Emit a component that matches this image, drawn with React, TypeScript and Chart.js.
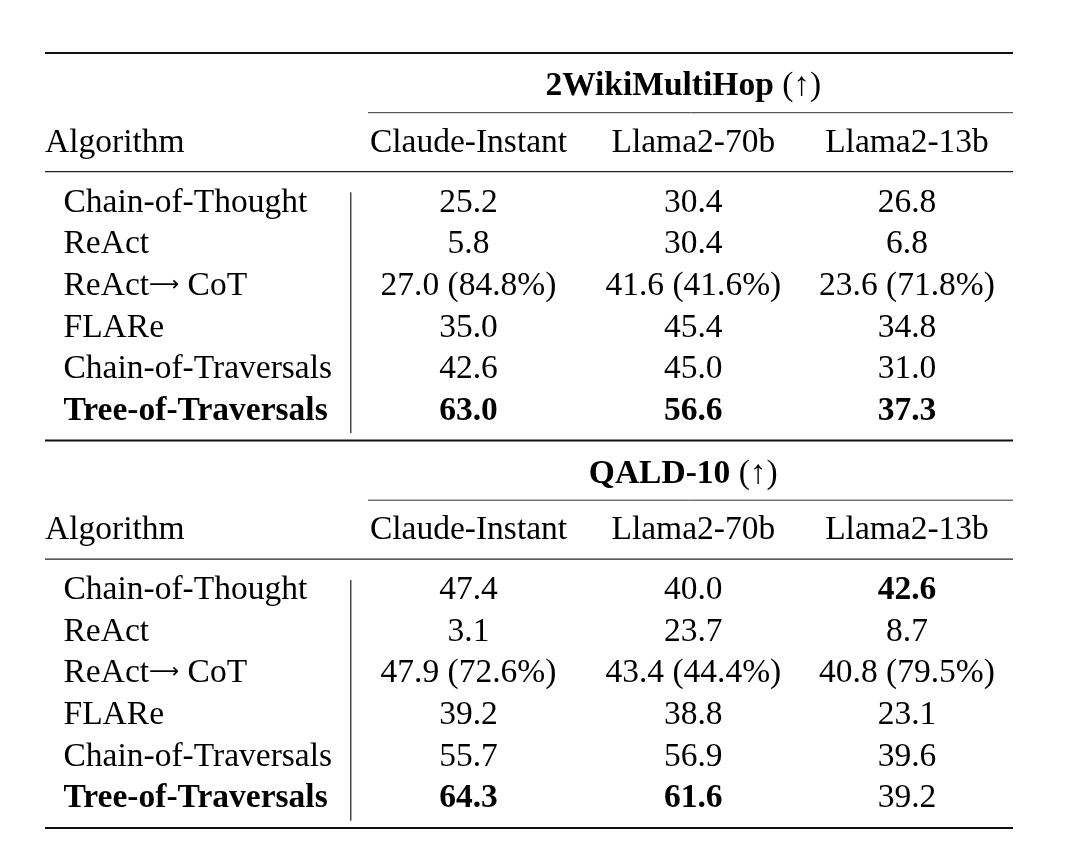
import React, { useEffect, useRef } from "react";
import { Chart, registerables } from "chart.js";
Chart.register(...registerables);

// ---------- data ----------
const benchmarks = ["2WikiMultiHop", "QALD-10"];
const models = ["Claude-Instant", "Llama2-70b", "Llama2-13b"];
const algorithms = [
  "Chain-of-Thought",
  "ReAct",
  "ReAct\u2192 CoT",
  "FLARe",
  "Chain-of-Traversals",
  "Tree-of-Traversals",
];
const wikiClaude = [25.2, 5.8, 27.0, 35.0, 42.6, 63.0];
const wikiLlama70 = [30.4, 30.4, 41.6, 45.4, 45.0, 56.6];
const wikiLlama13 = [26.8, 6.8, 23.6, 34.8, 31.0, 37.3];
const wikiFallbackPct = [84.8, 41.6, 71.8];
const wikiBoldRow = [5, 5, 5];

const qaldClaude = [47.4, 3.1, 47.9, 39.2, 55.7, 64.3];
const qaldLlama70 = [40.0, 23.7, 43.4, 38.8, 56.9, 61.6];
const qaldLlama13 = [42.6, 8.7, 40.8, 23.1, 39.6, 39.2];
const qaldFallbackPct = [72.6, 44.4, 79.5];
const qaldBoldRow = [5, 5, 0];

const boldAlgorithm = 5;
const fallbackRow = 2;

// ---------- layout (table units) ----------
const TABLE_W = 968;
const TABLE_H = 775;
const BLOCK_H = 387.5;
const ALG_X = 0;
const LABEL_X = 18.5;
const COL_X = [423.5, 648.3, 862];
const TITLE_X = 638.3;
const CMID_X0 = 323;
const VLINE_X = 305.7;
const TITLE_Y = 42;
const CMID_Y = 59.7;
const HEADER_Y = 98.7;
const MID_Y = 118.7;
const ROW0_Y = 158.7;
const ROW_H = 41.6;
const VLINE_Y0 = 139.5;
const VLINE_Y1 = 380;

const FONT_FAMILY = '"Liberation Serif", "Times New Roman", serif';
const ARROW_FONT = '21px "DejaVu Sans", sans-serif';
const FONT_SIZE = 33.5;

function fmt(v: number) {
  return v.toFixed(1);
}

function buildCells() {
  const cells: any[] = [];
  const blocks = [
    { cols: [wikiClaude, wikiLlama70, wikiLlama13], pct: wikiFallbackPct, bold: wikiBoldRow },
    { cols: [qaldClaude, qaldLlama70, qaldLlama13], pct: qaldFallbackPct, bold: qaldBoldRow },
  ];
  blocks.forEach((blk, bi) => {
    const off = bi * BLOCK_H;
    cells.push({
      x: TITLE_X,
      y: off + TITLE_Y,
      parts: [
        { t: benchmarks[bi], b: true },
        { t: " (\u2191)", b: false },
      ],
      a: "center",
    });
    cells.push({ x: ALG_X, y: off + HEADER_Y, parts: [{ t: "Algorithm", b: false }], a: "left" });
    models.forEach((m, ci) => {
      cells.push({ x: COL_X[ci], y: off + HEADER_Y, parts: [{ t: m, b: false }], a: "center" });
    });
    algorithms.forEach((alg, ri) => {
      const y = off + ROW0_Y + ri * ROW_H;
      cells.push({ x: LABEL_X, y, parts: [{ t: alg, b: ri === boldAlgorithm }], a: "left" });
      blk.cols.forEach((col, ci) => {
        let t = fmt(col[ri]);
        if (ri === fallbackRow) t += " (" + fmt(blk.pct[ci]) + "%)";
        cells.push({ x: COL_X[ci], y, parts: [{ t, b: blk.bold[ci] === ri }], a: "center" });
      });
    });
  });
  return cells;
}

function rule(x0: number, x1: number, y0: number, y1: number, w: number, color: string) {
  return {
    type: "line" as const,
    data: [
      { x: x0, y: y0 },
      { x: x1, y: y1 },
    ],
    showLine: true,
    borderColor: color,
    borderWidth: w,
    pointRadius: 0,
    clip: false,
    fill: false,
  };
}

function buildRules() {
  const r: any[] = [];
  r.push(rule(0, TABLE_W, 0, 0, 2.2, "#111"));
  for (let b = 0; b < 2; b++) {
    const off = b * BLOCK_H;
    r.push(rule(CMID_X0, TABLE_W, off + CMID_Y, off + CMID_Y, 1, "#333"));
    r.push(rule(0, TABLE_W, off + MID_Y, off + MID_Y, 1.3, "#222"));
    r.push(rule(VLINE_X, VLINE_X, off + VLINE_Y0, off + VLINE_Y1, 1, "#444"));
    r.push(rule(0, TABLE_W, off + BLOCK_H, off + BLOCK_H, 2.2, "#111"));
  }
  return r;
}

// split text so that the arrow is drawn as a long thin arrow glyph
function segments(parts: { t: string; b: boolean }[]) {
  const segs: { t: string; font: string; dy: number }[] = [];
  parts.forEach((p) => {
    const pieces = p.t.split(/(\u2192)/);
    pieces.forEach((s) => {
      if (!s) return;
      if (s === "\u2192") {
        segs.push({ t: "\u27F6", font: ARROW_FONT, dy: -4 });
      } else {
        segs.push({ t: s, font: `${p.b ? "bold " : ""}${FONT_SIZE}px ${FONT_FAMILY}`, dy: 0 });
      }
    });
  });
  return segs;
}

const textPlugin = {
  id: "cellText",
  afterDatasetsDraw(chart: any) {
    const ctx = chart.ctx as CanvasRenderingContext2D;
    chart.data.datasets.forEach((ds: any, di: number) => {
      if (!ds.isCells) return;
      const meta = chart.getDatasetMeta(di);
      meta.data.forEach((el: any, i: number) => {
        const raw = ds.data[i];
        const segs = segments(raw.parts);
        ctx.save();
        ctx.fillStyle = "#000";
        ctx.textBaseline = "alphabetic";
        ctx.textAlign = "left";
        const widths = segs.map((s) => {
          ctx.font = s.font;
          return ctx.measureText(s.t).width;
        });
        const total = widths.reduce((s, w) => s + w, 0);
        let cx = el.x;
        if (raw.a === "center") cx -= total / 2;
        else if (raw.a === "right") cx -= total;
        segs.forEach((s, k) => {
          ctx.font = s.font;
          ctx.fillText(s.t, cx, el.y + s.dy);
          cx += widths[k];
        });
        ctx.restore();
      });
    });
  },
};

export default function App() {
  const ref = useRef<HTMLCanvasElement | null>(null);
  useEffect(() => {
    if (!ref.current) return;
    const chart = new Chart(ref.current, {
      type: "scatter",
      data: {
        datasets: [
          ...buildRules(),
          {
            type: "scatter",
            isCells: true,
            data: buildCells(),
            pointRadius: 0,
            pointHoverRadius: 0,
            clip: false,
          } as any,
        ],
      },
      options: {
        animation: false,
        responsive: false,
        events: [],
        layout: { padding: { left: 45, right: 67, top: 53, bottom: 20 } },
        scales: {
          x: { type: "linear", min: 0, max: TABLE_W, display: false },
          y: { type: "linear", min: 0, max: TABLE_H, reverse: true, display: false },
        },
        plugins: { legend: { display: false }, tooltip: { enabled: false } },
      },
      plugins: [textPlugin],
    });
    return () => chart.destroy();
  }, []);
  return (
    <div style={{ position: "absolute", left: 0, top: 0, width: 1080, height: 848, background: "#fff" }}>
      <canvas ref={ref} width={1080} height={848} style={{ width: 1080, height: 848, display: "block" }} />
    </div>
  );
}
